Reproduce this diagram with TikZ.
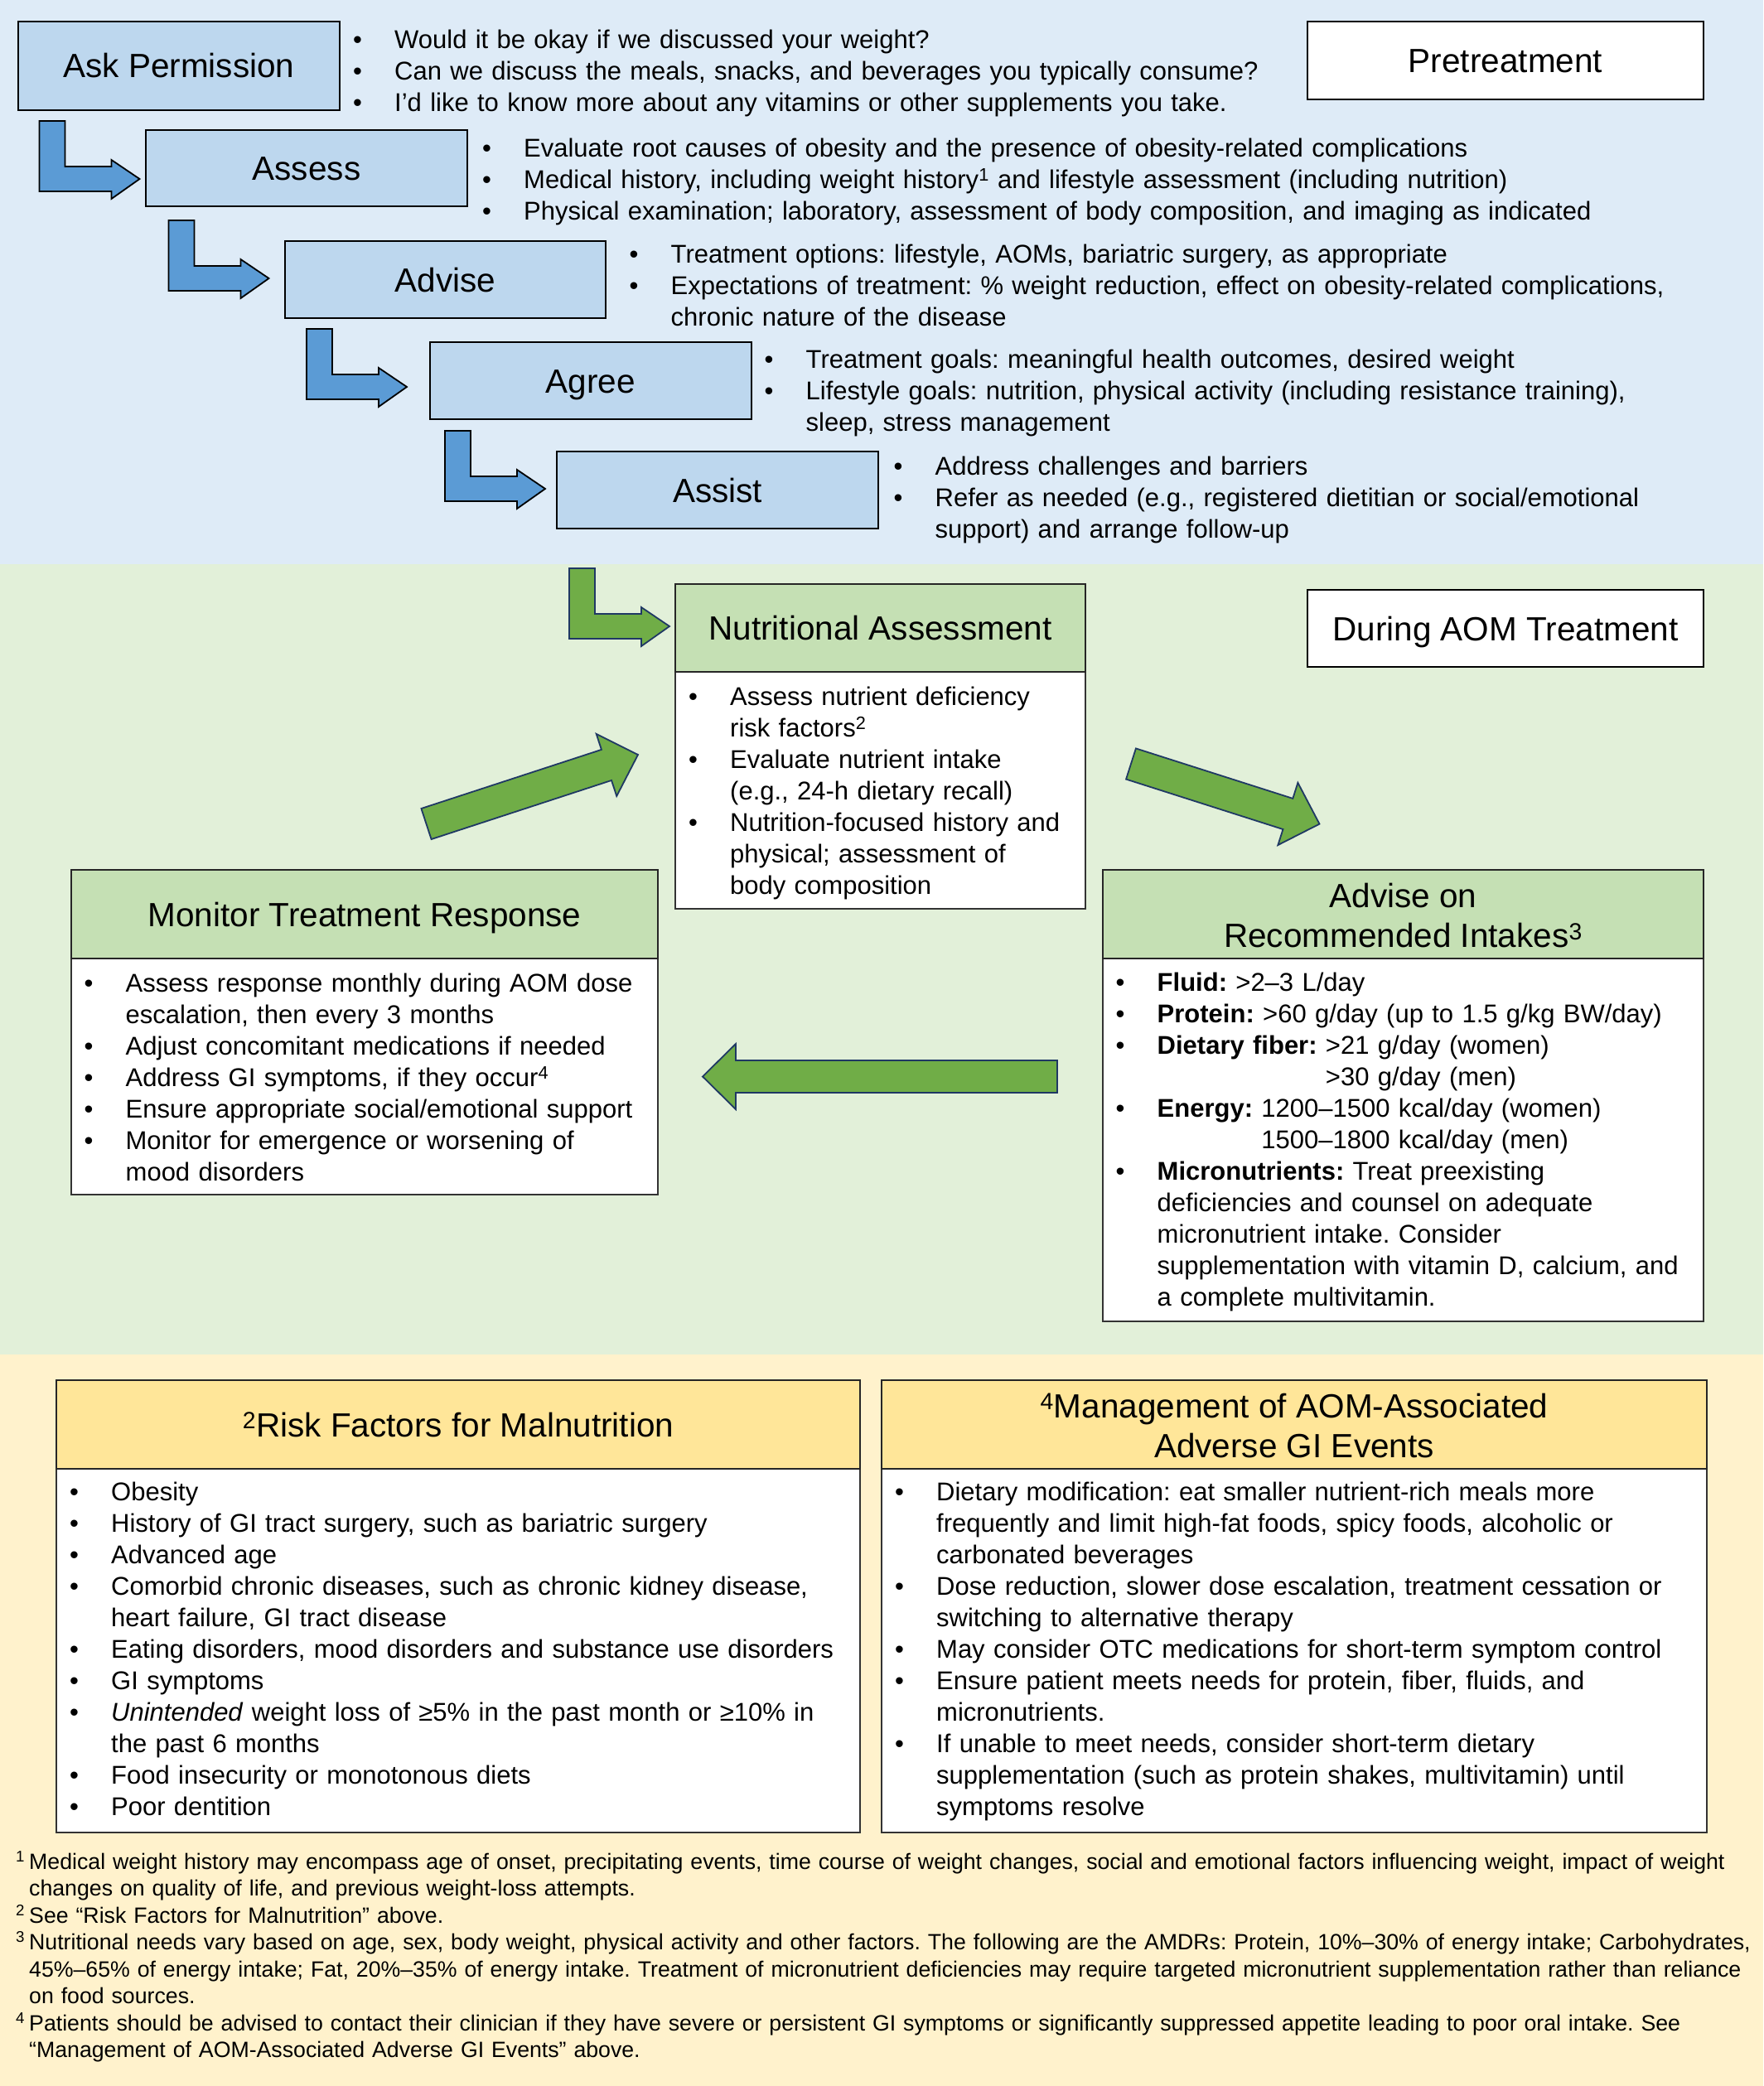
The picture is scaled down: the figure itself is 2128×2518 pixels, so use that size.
\documentclass[tikz,border=0pt]{standalone}
\usepackage{fontspec}
\setmainfont{Liberation Sans}
\definecolor{bgblue}{HTML}{DEEBF7}
\definecolor{boxblue}{HTML}{BDD7EE}
\definecolor{arrblue}{HTML}{5B9BD5}
\definecolor{bggreen}{HTML}{E2F0D9}
\definecolor{hdgreen}{HTML}{C5E0B4}
\definecolor{arrgreen}{HTML}{70AD47}
\definecolor{navy}{HTML}{1F3864}
\definecolor{bgyellow}{HTML}{FFF2CC}
\definecolor{hdyellow}{HTML}{FFE699}
\newlength{\hi}\setlength{\hi}{50pt}
\newcommand{\bitem}{\hangindent=\hi\hangafter=1\noindent\makebox[\hi][l]{\rule{0pt}{30pt}\textbullet}}
\newcommand{\bl}{\par\bitem}
\newcommand{\fnfirst}[1]{\hangindent=16pt\hangafter=1\noindent\makebox[16pt][l]{\rule{0pt}{26pt}\textsuperscript{#1}}}
\newcommand{\fnitem}[1]{\par\fnfirst{#1}}
\newcommand{\bodyfont}{\fontsize{31}{38}\selectfont\frenchspacing}
\newcommand{\headfont}{\fontsize{40.5}{48.6}\selectfont}
\newcommand{\fnfont}{\fontsize{26.7}{32.5}\selectfont\frenchspacing}
\newcommand{\bentarr}[3]{\path[#3] (#1,#2) -- ++(31,0) -- ++(0,55) -- ++(56,0) -- ++(0,-8) -- ++(34,23) -- ++(-34,24) -- ++(0,-9) -- ++(-87,0) -- cycle;}
\newcommand{\blockarr}[4]{\begin{scope}[shift={(#1,#2)}, rotate=#3]\path[garr] (0,-19.5) -- (#4-40,-19.5) -- (#4-40,-39.5) -- (#4,0) -- (#4-40,39.5) -- (#4-40,19.5) -- (0,19.5) -- cycle;\end{scope}}
\tikzset{
  lbl/.style={inner sep=0pt, font=\headfont, text height=29pt, text depth=0pt},
  bluebox/.style={lbl, draw=black, line width=2pt, fill=boxblue},
  whitebox/.style={lbl, draw=black, line width=2pt, fill=white},
  greenhd/.style={lbl, draw=black!85, line width=2pt, fill=hdgreen},
  yellowhd/.style={lbl, draw=black!85, line width=2pt, fill=hdyellow},
  bodybox/.style={draw=black!80, line width=1.6pt, fill=white, inner sep=0pt},
  lst/.style={anchor=north west, inner sep=0pt, text width=#1, align=left, font=\bodyfont},
  barr/.style={fill=arrblue, draw=black, line width=1.8pt},
  garr/.style={fill=arrgreen, draw=navy, line width=1.8pt},
}
\begin{document}
\begin{tikzpicture}[x=1pt,y=-1pt]
\useasboundingbox (0,0) rectangle (2128,2518);
\fill[bgblue] (0,0) rectangle (2128,681);
\fill[bggreen] (0,681) rectangle (2128,1635);
\fill[bgyellow] (0,1635) rectangle (2128,2518);

% Pretreatment steps
\node[bluebox, minimum width=388, minimum height=107] (ask) at (216,79.5) {Ask Permission};
\node[bluebox, minimum width=388, minimum height=92] (assess) at (370,203) {Assess};
\node[bluebox, minimum width=387, minimum height=93] (advise) at (537.5,337.5) {Advise};
\node[bluebox, minimum width=388, minimum height=93] (agree) at (713,459.5) {Agree};
\node[bluebox, minimum width=388, minimum height=93] (assist) at (866,591.5) {Assist};
\node[whitebox, minimum width=478, minimum height=94] (pre) at (1817,73) {Pretreatment};

\bentarr{47.5}{146}{barr}
\bentarr{203.5}{266}{barr}
\bentarr{370}{397}{barr}
\bentarr{537}{520}{barr}
\bentarr{687}{686}{garr}

\node[lst=1600pt] (asklist) at (426,28) {\bitem Would it be okay if we discussed your weight?\bl Can we discuss the meals, snacks, and beverages you typically consume?\bl I’d like to know more about any vitamins or other supplements you take.\par};
\node[lst=1500pt] (assesslist) at (582,159.7) {\bitem Evaluate root causes of obesity and the presence of obesity-related complications\bl Medical history, including weight history\textsuperscript{1} and lifestyle assessment (including nutrition)\bl Physical examination; laboratory, assessment of body composition, and imaging as indicated\par};
\node[lst=1350pt] (adviselist) at (759.5,287) {\bitem Treatment options: lifestyle, AOMs, bariatric surgery, as appropriate\bl Expectations of treatment: \% weight reduction, effect on obesity-related complications,\newline chronic nature of the disease\par};
\node[lst=1200pt] (agreelist) at (922.5,414) {\bitem Treatment goals: meaningful health outcomes, desired weight\bl Lifestyle goals: nutrition, physical activity (including resistance training),\newline sleep, stress management\par};
\node[lst=1040pt] (assistlist) at (1078.5,543) {\bitem Address challenges and barriers\bl Refer as needed (e.g., registered dietitian or social/emotional\newline support) and arrange follow-up\par};

% During AOM treatment
\node[whitebox, minimum width=478, minimum height=93] (during) at (1817,758.5) {During AOM Treatment};

\node[bodybox, minimum width=495, minimum height=286] (nutrbody) at (1062.5,954) {};
\node[greenhd, minimum width=495, minimum height=106] (nutrhd) at (1062.5,758) {Nutritional Assessment};
\node[lst=470pt] (nutrlist) at (831,821.5) {\bitem Assess nutrient deficiency\newline risk factors\textsuperscript{2}\bl Evaluate nutrient intake\newline (e.g., 24-h dietary recall)\bl Nutrition-focused history and\newline physical; assessment of\newline body composition\par};

\node[bodybox, minimum width=708, minimum height=285] (monbody) at (440,1299.5) {};
\node[greenhd, minimum width=708, minimum height=107] (monhd) at (440,1103.5) {Monitor Treatment Response};
\node[lst=690pt] (monlist) at (101.5,1167) {\bitem Assess response monthly during AOM dose\newline escalation, then every 3 months\bl Adjust concomitant medications if needed\bl Address GI symptoms, if they occur\textsuperscript{4}\bl Ensure appropriate social/emotional support\bl Monitor for emergence or worsening of\newline mood disorders\par};

\node[bodybox, minimum width=725, minimum height=438] (advbody) at (1693.5,1376) {};
\node[greenhd, minimum width=725, minimum height=107] (advhd) at (1693.5,1103.5) {};
\node[lbl] (advh1) at (1693.5,1080.5) {Advise on};
\node[lbl] (advh2) at (1693.5,1129) {Recommended Intakes\textsuperscript{3}};
\node[lst=700pt] (advlist) at (1346.5,1166) {\bitem\textbf{Fluid:} >2–3 L/day\bl\textbf{Protein:} >60 g/day (up to 1.5 g/kg BW/day)\bl\textbf{Dietary fiber:} >21 g/day (women)\newline\phantom{\textbf{Dietary fiber:} }>30 g/day (men)\bl\textbf{Energy:} 1200–1500 kcal/day (women)\newline\phantom{\textbf{Energy:} }1500–1800 kcal/day (men)\bl\textbf{Micronutrients:} Treat preexisting\newline deficiencies and counsel on adequate\newline micronutrient intake. Consider\newline supplementation with vitamin D, calcium, and\newline a complete multivitamin.\par};

\blockarr{514.5}{994.5}{18.1}{268.8}
\blockarr{1365}{922}{-17.7}{238.8}
\blockarr{1276}{1299.5}{180}{428}

% Bottom boxes
\node[bodybox, minimum width=970, minimum height=439] (riskbody) at (553,1992.5) {};
\node[yellowhd, minimum width=970, minimum height=107] (riskhd) at (553,1719.5) {\textsuperscript{2}Risk Factors for Malnutrition};
\node[lst=960pt] (risklist) at (84,1781.5) {\bitem Obesity\bl History of GI tract surgery, such as bariatric surgery\bl Advanced age\bl Comorbid chronic diseases, such as chronic kidney disease,\newline heart failure, GI tract disease\bl Eating disorders, mood disorders and substance use disorders\bl GI symptoms\bl\textit{Unintended} weight loss of ≥5\% in the past month or ≥10\% in\newline the past 6 months\bl Food insecurity or monotonous diets\bl Poor dentition\par};

\node[bodybox, minimum width=996, minimum height=439] (mgmtbody) at (1562,1992.5) {};
\node[yellowhd, minimum width=996, minimum height=107] (mgmthd) at (1562,1719.5) {};
\node[lbl] (mgmth1) at (1562,1696.5) {\textsuperscript{4}Management of AOM-Associated};
\node[lbl] (mgmth2) at (1562,1744.5) {Adverse GI Events};
\node[lst=980pt] (mgmtlist) at (1080,1781.5) {\bitem Dietary modification: eat smaller nutrient-rich meals more\newline frequently and limit high-fat foods, spicy foods, alcoholic or\newline carbonated beverages\bl Dose reduction, slower dose escalation, treatment cessation or\newline switching to alternative therapy\bl May consider OTC medications for short-term symptom control\bl Ensure patient meets needs for protein, fiber, fluids, and\newline micronutrients.\bl If unable to meet needs, consider short-term dietary\newline supplementation (such as protein shakes, multivitamin) until\newline symptoms resolve\par};

% Footnotes
\node[anchor=north west, inner sep=0pt, text width=2300pt, align=left, font=\fnfont] (notes) at (19,2230) {\fnfirst{1}Medical weight history may encompass age of onset, precipitating events, time course of weight changes, social and emotional factors influencing weight, impact of weight\newline changes on quality of life, and previous weight-loss attempts.\fnitem{2}See “Risk Factors for Malnutrition” above.\fnitem{3}Nutritional needs vary based on age, sex, body weight, physical activity and other factors. The following are the AMDRs: Protein, 10\%–30\% of energy intake; Carbohydrates,\newline 45\%–65\% of energy intake; Fat, 20\%–35\% of energy intake. Treatment of micronutrient deficiencies may require targeted micronutrient supplementation rather than reliance\newline on food sources.\fnitem{4}Patients should be advised to contact their clinician if they have severe or persistent GI symptoms or significantly suppressed appetite leading to poor oral intake. See\newline “Management of AOM-Associated Adverse GI Events” above.\par};
\end{tikzpicture}
\end{document}
